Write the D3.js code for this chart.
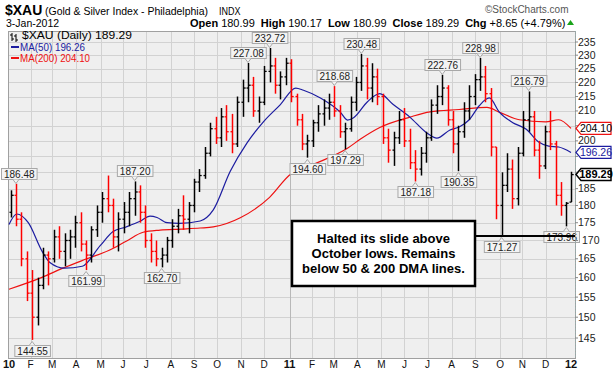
<!DOCTYPE html>
<html>
<head>
<meta charset="utf-8">
<script src="https://cdn.jsdelivr.net/npm/d3@7"></script>
<style>
  body { margin: 0; background: #fff; }
  svg { display: block; font-family: "Liberation Sans", Arial, sans-serif; }
</style>
</head>
<body>
<div id="chart"></div>
<script>
// weekly bars, Jan 2010 - Jan 3 2012 (last bar is the single day 3-Jan-2012)
const highs = [184.5, 186.48, 178, 167, 162, 160, 168, 167, 173, 174, 172, 173, 177, 178, 170, 174, 180, 184, 189, 182,
  178, 181, 184, 187.2, 186, 180, 172, 170, 168, 171, 176, 179, 183, 181, 188, 191, 198, 206, 208, 211,
  212, 209, 215, 221, 227.08, 222, 215, 226, 232.72, 229, 224, 229,
  228.5, 216, 209, 202, 207, 212, 214, 216, 218.68, 212, 206, 215, 222, 230.48, 229, 227, 225, 216,
  204, 203, 210, 211, 204, 197, 198, 203, 214, 219, 222.76, 219, 210, 205, 213, 219, 223, 228.98, 226, 218,
  198, 190, 196, 194, 198, 210, 216.79, 210, 200, 205, 210, 200, 187, 181, 190.17];
const lows = [176.5, 174, 163, 154, 144.55, 148, 157, 158, 164, 165, 163, 165, 168, 167, 161.99, 164, 171, 175, 178, 168,
  167, 172, 174, 177, 175, 168, 164, 163, 162.7, 164, 168, 172, 173, 172, 178, 184, 188, 195, 199, 198,
  200, 196, 198, 208, 213, 208, 206, 212, 220, 216, 214, 219,
  213, 205, 197, 194.6, 198, 203, 205, 207, 208, 201, 197.29, 203, 210, 217, 214, 213, 212, 199,
  193, 192, 199, 198, 191, 187.18, 189, 193, 200, 209, 212, 205, 196, 190.35, 201, 207, 212, 217, 213, 195,
  176, 171.27, 184, 179, 180, 195, 203, 195, 188, 191, 197, 180, 177, 173.96, 180.99];
const closes = [183, 176, 165, 156, 150, 158, 166, 165, 171, 167, 170, 171, 175, 169, 166, 173, 178, 182, 180, 171,
  176, 178, 182, 184, 178, 170, 167, 165, 166, 170, 174, 177, 176, 180, 187, 189, 196, 204, 201, 208,
  203, 199, 213, 218, 219, 210, 213, 224, 226, 219, 222, 227,
  215, 207, 199, 200, 206, 209, 211, 213, 210, 203, 204, 213, 220, 226, 218, 222, 215, 201,
  197, 201, 207, 200, 193, 191, 196, 201, 212, 215, 218, 207, 199, 203, 210, 215, 221, 222, 216, 198,
  180, 186, 191, 182, 196, 207, 208, 197, 192, 203, 199, 183, 180, 180.64, 189.29];
const firstOpen = 178;

const ma50Dates = ["2010-01-04", "2010-01-14", "2010-01-29", "2010-02-16", "2010-02-26", "2010-03-17", "2010-04-09",
  "2010-05-02", "2010-05-19", "2010-06-05", "2010-06-23", "2010-07-06", "2010-07-15", "2010-07-28", "2010-08-13",
  "2010-09-09", "2010-09-26", "2010-10-18", "2010-11-09", "2010-11-30", "2010-12-22", "2011-01-11", "2011-01-21",
  "2011-02-12", "2011-03-10", "2011-03-19", "2011-03-27", "2011-04-14", "2011-04-30", "2011-05-17", "2011-06-08",
  "2011-06-30", "2011-07-13", "2011-07-30", "2011-08-11", "2011-08-24", "2011-09-06", "2011-09-19", "2011-10-02",
  "2011-10-19", "2011-11-06", "2011-11-22", "2011-12-05", "2011-12-18", "2012-01-03"];
const ma50Vals = [174.5, 177.5, 175, 167, 164, 162.5, 163,
  168.5, 172.5, 173.8, 175.4, 176.9, 176.5, 175, 174.8,
  175.5, 178.7, 190.3, 199.4, 206.3, 212.2, 218, 217.2,
  214.5, 209.5, 206.9, 207.7, 213.2, 216, 212.3, 207.9,
  202.6, 200.9, 203.6, 204.6, 207, 211.8, 214.5, 209.6,
  206.1, 203.8, 199.6, 198.3, 198, 196.26];

const ma200Dates = ["2010-01-04", "2010-02-15", "2010-03-15", "2010-04-15", "2010-05-14", "2010-06-05", "2010-06-27",
  "2010-07-19", "2010-08-15", "2010-09-09", "2010-09-26", "2010-10-31", "2010-12-08", "2011-01-04", "2011-02-03",
  "2011-03-19", "2011-04-05", "2011-04-30", "2011-06-08", "2011-07-04", "2011-08-11", "2011-09-16", "2011-10-02",
  "2011-10-28", "2011-12-01", "2011-12-18", "2012-01-03"];
const ma200Vals = [157, 160, 162.5, 165, 167.3, 169.8, 172.3,
  172.9, 173.2, 173.5, 173.8, 176.4, 182.4, 189.4, 192.5,
  197.6, 200.6, 204.4, 207.9, 209.7, 210.5, 211.2, 209.6,
  207, 206.3, 207, 204.1];

const priceTicks = [145, 150, 155, 160, 165, 170, 175, 180, 185, 190, 195, 200, 205, 210, 215, 220, 225, 230, 235];
const monthTicks = ["2010-01-04", "2010-02-01", "2010-03-01", "2010-04-01", "2010-05-03", "2010-06-01", "2010-07-01",
  "2010-08-02", "2010-09-01", "2010-10-01", "2010-11-01", "2010-12-01", "2011-01-03", "2011-02-01", "2011-03-01",
  "2011-04-01", "2011-05-02", "2011-06-01", "2011-07-01", "2011-08-01", "2011-09-01", "2011-10-03", "2011-11-01",
  "2011-12-01", "2012-01-03"];
const monthLabels = ["10", "F", "M", "A", "M", "J", "J", "A", "S", "O", "N", "D", "11", "F", "M",
  "A", "M", "J", "J", "A", "S", "O", "N", "D", "12"];

const highNotes = [1, 23, 44, 48, 60, 65, 80, 87, 96];
const lowNotes = [4, 14, 28, 55, 62, 75, 83, 91, 103];
const lastValues = [204.10, 196.26, 189.29];

const parse = d3.timeParse("%Y-%m-%d");
const W = 613, H = 371;
const L = 8, R = 575, T = 31, B = 358;

const svg = d3.select("#chart").append("svg").attr("width", W).attr("height", H);

const x = d3.scaleTime().domain([parse("2010-01-04"), parse("2012-01-03")]).range([9, 571]);
const y = d3.scaleLog().domain([145, 235]).range([338, 42]);

const mondays = d3.timeMonday.range(parse("2010-01-04"), parse("2012-01-03"));
const lastDay = parse("2012-01-03");
const barDates = mondays.map(m => { const d = d3.timeDay.offset(m, 2); return d > lastDay ? lastDay : d; });

// plot background + grid
svg.append("rect").attr("x", L).attr("y", T).attr("width", R - L).attr("height", B - T).attr("fill", "#efefef");
svg.append("g").selectAll("line").data(priceTicks).join("line")
  .attr("x1", L).attr("x2", R).attr("y1", d => Math.round(y(d)) + 0.5).attr("y2", d => Math.round(y(d)) + 0.5)
  .attr("stroke", "#d2d2d2");
svg.append("g").selectAll("line").data(monthTicks.slice(1, -1)).join("line")
  .attr("x1", d => Math.round(x(parse(d))) + 0.5).attr("x2", d => Math.round(x(parse(d))) + 0.5)
  .attr("y1", T).attr("y2", B).attr("stroke", "#d2d2d2");
svg.append("line").attr("x1", Math.round(x(parse("2011-01-03"))) + 0.5).attr("x2", Math.round(x(parse("2011-01-03"))) + 0.5)
  .attr("y1", T).attr("y2", B).attr("stroke", "#b8b8b8");
svg.append("rect").attr("x", L + 0.5).attr("y", T + 0.5).attr("width", R - L).attr("height", B - T)
  .attr("fill", "none").attr("stroke", "#a0a0a0");

const clip = svg.append("clipPath").attr("id", "plotclip");
clip.append("rect").attr("x", L).attr("y", T).attr("width", R - L).attr("height", B - T);
const plot = svg.append("g").attr("clip-path", "url(#plotclip)");

// moving averages
const line = d3.line().x(d => x(d[0])).y(d => y(d[1])).curve(d3.curveMonotoneX);
plot.append("path").datum(ma200Dates.map((d, i) => [parse(d), ma200Vals[i]]))
  .attr("d", line).attr("fill", "none").attr("stroke", "#ee1111").attr("stroke-width", 1.2);
plot.append("path").datum(ma50Dates.map((d, i) => [parse(d), ma50Vals[i]]))
  .attr("d", line).attr("fill", "none").attr("stroke", "#1c1ca0").attr("stroke-width", 1.2);

// OHLC bars
const bars = plot.append("g");
highs.forEach((h, i) => {
  const prev = i === 0 ? firstOpen : closes[i - 1];
  const open = i === highs.length - 1 ? 180.99 : prev;
  const col = closes[i] < prev ? "#ff0000" : "#000000";
  const cx = Math.round(x(barDates[i])) + 0.5;
  bars.append("line").attr("x1", cx).attr("x2", cx).attr("y1", y(h)).attr("y2", y(lows[i]))
    .attr("stroke", col).attr("stroke-width", 1.5);
  bars.append("line").attr("x1", cx - 2).attr("x2", cx).attr("y1", y(open)).attr("y2", y(open))
    .attr("stroke", col).attr("stroke-width", 1.3);
  bars.append("line").attr("x1", cx).attr("x2", cx + 2.2).attr("y1", y(closes[i])).attr("y2", y(closes[i]))
    .attr("stroke", col).attr("stroke-width", 1.3);
});

// high / low labels
function note(i, value, above) {
  const cx = x(barDates[i]);
  const py = y(value);
  const g = svg.append("g");
  const t = g.append("text").text(value.toFixed(2)).attr("font-size", 10).attr("fill", "#222")
    .attr("text-anchor", "middle");
  const w = t.node().getComputedTextLength() + 5;
  const bx = Math.min(R + 4 - w, Math.max(1, cx - w / 2));
  const by = above ? py - 16 : py + 5;
  g.insert("rect", "text").attr("x", bx + 0.5).attr("y", Math.round(by) + 0.5).attr("width", w).attr("height", 11)
    .attr("fill", "#f3f3f3").attr("stroke", "#a8a8a8");
  const ty = above ? Math.round(by) + 11.5 : Math.round(by) + 0.5;
  const tip = above ? ty + 4 : ty - 4;
  g.insert("path", "text").attr("d", `M${cx - 3},${ty}L${cx},${tip}L${cx + 3},${ty}`)
    .attr("fill", "#f3f3f3").attr("stroke", "#a8a8a8");
  t.attr("x", bx + w / 2 + 0.5).attr("y", Math.round(by) + 9.5);
}
highNotes.forEach(i => note(i, highs[i], true));
lowNotes.forEach(i => note(i, lows[i], false));

// support line at October low
svg.append("line").attr("x1", 475).attr("x2", R).attr("y1", y(171.27)).attr("y2", y(171.27))
  .attr("stroke", "#000").attr("stroke-width", 2);

// callout
svg.append("rect").attr("x", 292).attr("y", 221).attr("width", 183).attr("height", 65)
  .attr("fill", "#fff").attr("stroke", "#000").attr("stroke-width", 2.5);
const callout = ["Halted its slide above", "October lows. Remains", "below 50 & 200 DMA lines."];
svg.append("g").selectAll("text").data(callout).join("text")
  .attr("x", 383.5).attr("y", (d, i) => 243 + i * 15).attr("text-anchor", "middle")
  .attr("font-size", 13).attr("font-weight", "bold").attr("fill", "#000").text(d => d);

// legend in plot
const leg = svg.append("g");
leg.append("path").attr("d", "M12,33V41M10,35H12M12,39H14M16,34V42M14,36H16M16,40H18")
  .attr("stroke", "#000").attr("fill", "none").attr("stroke-width", 1);
leg.append("text").attr("x", 22).attr("y", 39).attr("font-size", 11.5).attr("fill", "#000")
  .attr("textLength", 110).attr("lengthAdjust", "spacingAndGlyphs").text("$XAU (Daily) 189.29");
leg.append("line").attr("x1", 11).attr("x2", 19).attr("y1", 47).attr("y2", 47).attr("stroke", "#1c1ca0").attr("stroke-width", 2);
leg.append("text").attr("x", 20).attr("y", 51).attr("font-size", 10.5).attr("fill", "#1c1ca0")
  .attr("textLength", 65).attr("lengthAdjust", "spacingAndGlyphs").text("MA(50) 196.26");
leg.append("line").attr("x1", 11).attr("x2", 19).attr("y1", 58).attr("y2", 58).attr("stroke", "#ee1111").attr("stroke-width", 2);
leg.append("text").attr("x", 20).attr("y", 62).attr("font-size", 10.5).attr("fill", "#ee1111")
  .attr("textLength", 70).attr("lengthAdjust", "spacingAndGlyphs").text("MA(200) 204.10");

// right axis (labels covered by the last-value tags are left out, as in the source)
svg.append("line").attr("x1", R + 0.5).attr("x2", R + 0.5).attr("y1", T).attr("y2", B)
  .attr("stroke", "#9aa").attr("stroke-dasharray", "2,1");
const ax = svg.append("g");
ax.selectAll("line").data(priceTicks).join("line")
  .attr("x1", R).attr("x2", R + 3).attr("y1", d => y(d)).attr("y2", d => y(d)).attr("stroke", "#888");
const shown = priceTicks.filter(v => lastValues.every(t => Math.abs(y(v) - y(t)) > 9));
ax.selectAll("text").data(shown).join("text")
  .attr("x", d => d === 170 ? 582 : 578).attr("y", d => y(d) + 3.5).attr("font-size", 10.5).attr("fill", "#222").text(d => d);

function tag(value, color, bold) {
  const py = y(value);
  svg.append("path").attr("d", `M576,${py}L581,${py - 6}H611V${py + 6}H581Z`)
    .attr("fill", "#fff").attr("stroke", color).attr("stroke-width", bold ? 1.5 : 1.2);
  svg.append("text").attr("x", 596).attr("y", py + 3.6).attr("text-anchor", "middle")
    .attr("font-size", bold ? 11 : 10.5).attr("font-weight", bold ? "bold" : "normal")
    .attr("fill", bold ? "#000" : color === "#ee1111" ? "#000" : "#1c1ca0").text(value.toFixed(2));
}
tag(lastValues[0], "#ee1111", false);
tag(lastValues[1], "#1c1ca0", false);
tag(lastValues[2], "#000", true);

// x axis labels
svg.append("g").selectAll("text").data(monthTicks).join("text")
  .attr("x", d => x(parse(d))).attr("y", 368).attr("text-anchor", "middle")
  .attr("font-size", (d, i) => monthLabels[i].length > 1 ? 11 : 10)
  .attr("font-weight", (d, i) => monthLabels[i].length > 1 ? "bold" : "normal")
  .attr("fill", "#111").text((d, i) => monthLabels[i]);

// header
svg.append("text").attr("x", 5).attr("y", 15).attr("font-size", 14).attr("font-weight", "bold").text("$XAU");
svg.append("text").attr("x", 45).attr("y", 15).attr("font-size", 10.8).attr("textLength", 163)
  .attr("lengthAdjust", "spacingAndGlyphs").text("(Gold & Silver Index - Philadelphia)");
svg.append("text").attr("x", 219).attr("y", 15).attr("font-size", 10).attr("textLength", 21.5)
  .attr("lengthAdjust", "spacingAndGlyphs").text("INDX");
svg.append("text").attr("x", 485).attr("y", 13).attr("font-size", 10).attr("fill", "#555").text("\u00a9StockCharts.com");
svg.append("text").attr("x", 6).attr("y", 27).attr("font-size", 10.5).text("3-Jan-2012");

const quote = svg.append("text").attr("x", 190).attr("y", 27).attr("font-size", 11);
[["Open", true, 0], ["180.99", false, 3], ["High", true, 6], ["190.17", false, 3], ["Low", true, 6],
 ["180.99", false, 3], ["Close", true, 6], ["189.29", false, 3], ["Chg", true, 6], ["+8.65 (+4.79%)", false, 3]]
  .forEach(([s, b, dx]) => quote.append("tspan").attr("dx", dx).attr("font-weight", b ? "bold" : "normal").text(s));
svg.append("path").attr("d", "M567,25L570.5,20L574,25Z").attr("fill", "#1aa31a");
</script>
</body>
</html>
